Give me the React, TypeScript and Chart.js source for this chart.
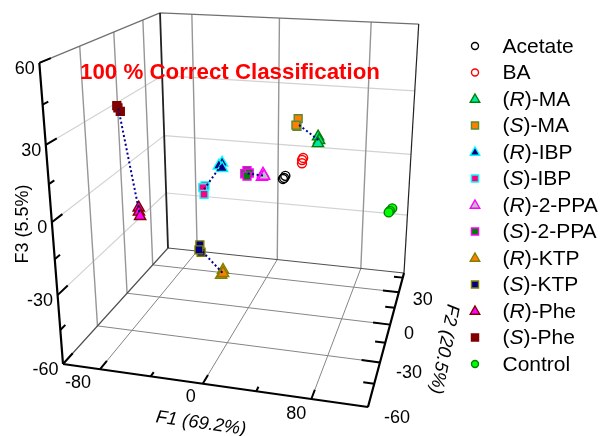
import React, { useEffect, useRef } from "react";
import { Chart, registerables } from "chart.js";
import { drawPoint } from "chart.js/helpers";

Chart.register(...registerables);

type P3 = number[];

// Replicate scores as [F1, F2, F3]
const acetate: P3[] = [[26, 10, -0.5], [25, 10, -1.5], [24, 10, -2]];
const ba: P3[] = [[36.3, 20, 4.7], [35.4, 20, 3.7], [35.4, 20, 2.2]];
const rMA: P3[] = [[54.5, 5, 19.7], [55.4, 5, 18.2], [54.5, 5, 16.8]];
const sMA: P3[] = [[31.5, 20, 22.3], [30.6, 20, 18.8], [29.7, 20, 19.3]];
const rIBP: P3[] = [[-21.7, 0, 6.7], [-24.4, 0, 5.3], [-21.7, 0, 4.3]];
const sIBP: P3[] = [[-29.7, -10, -0.3], [-31.5, -10, -1.2], [-30.6, -10, -4.1]];
const r2PPA: P3[] = [[7.1, 10, -0.4], [6.2, 10, -1.9], [8, 10, -1.4]];
const s2PPA: P3[] = [[-6.6, 10, 0.4], [-8.5, 10, -1.1], [-4.7, 10, -0.6], [-6.6, 10, -2.1]];
const rKTP: P3[] = [[-2.8, -30, -27.4], [-4.4, -30, -29.7], [-2.8, -30, -28.8]];
const sKTP: P3[] = [[-35, -10, -27.2], [-34.1, -10, -30.6], [-35.9, -10, -29.6]];
const rPhe: P3[] = [[-82.5, -15, -10.7], [-82.5, -15, -12.6], [-81.6, -15, -14.5]];
const sPhe: P3[] = [[-87, -25, 35.1], [-85.2, -25, 33.8], [-87.8, -25, 36]];
const control: P3[] = [[116.7, 0, -6.9], [115, 0, -8.1], [114.1, 0, -8.8]];

const seriesNames = ["Acetate", "BA", "(R)-MA", "(S)-MA", "(R)-IBP", "(S)-IBP", "(R)-2-PPA", "(S)-2-PPA", "(R)-KTP", "(S)-KTP", "(R)-Phe", "(S)-Phe", "Control"];
const seriesValues = [acetate, ba, rMA, sMA, rIBP, sIBP, r2PPA, s2PPA, rKTP, sKTP, rPhe, sPhe, control];
const seriesShapes = ["circle", "circle", "triangle", "rect", "triangle", "rect", "triangle", "rect", "triangle", "rect", "triangle", "rect", "circle"];
const seriesFill = ["rgba(0,0,0,0)", "rgba(0,0,0,0)", "#00e8a0", "#ff8000", "#000080", "#ff0080", "#c0c0c0", "#008000", "#ff8000", "#000080", "#ff00ff", "#800000", "#00ff00"];
const seriesStroke = ["#000000", "#ff0000", "#008000", "#5a8a30", "#00ffff", "#00ffff", "#ff00ff", "#ff00ff", "#808000", "#808000", "#800000", "#800000", "#008000"];
const linkedPairs = [[rMA, sMA], [rIBP, sIBP], [r2PPA, s2PPA], [rKTP, sKTP], [rPhe, sPhe]];

const f1Range = [-110, 120];
const f2Range = [-60, 50];
const f3Range = [-60, 60];
const f1Major = [-80, 0, 80];
const f1Minor = [-40, 40];
const f2Major = [-30, 0, 30];
const f2Minor = [-45, -15, 15, 45];
const f3Major = [-60, -30, 0, 30, 60];
const f3Minor = [-45, -15, 15, 45];

const title = "100 % Correct Classification";
const f1Title = "F1 (69.2%)";
const f2Title = "F2 (20.5%)";
const f3Title = "F3 (5.5%)";

const FONT = '"Liberation Sans", Arial, sans-serif';

// Perspective camera of the 3D box
function project(f1: number, f2: number, f3: number) {
  const a = (f1 - f1Range[0]) / (f1Range[1] - f1Range[0]);
  const b = (f2 - f2Range[0]) / (f2Range[1] - f2Range[0]);
  const c = (f3 - f3Range[0]) / (f3Range[1] - f3Range[0]);
  const w = 1 - 0.07757 * a + 0.30421 * b - 0.11 * c;
  return {
    x: (63 + 276.45 * a + 156.11 * b - 28 * c) / w,
    y: (364 + 11.43 * a - 40.56 * b - 308 * c) / w,
  };
}

const GAP = { x: NaN, y: NaN };
type Seg = [P3, P3];
const toPolyline = (segs: Seg[]) =>
  segs.flatMap(([p, q]) => [project(p[0], p[1], p[2]), project(q[0], q[1], q[2]), GAP]);

const mean = (pts: P3[]): P3 =>
  [0, 1, 2].map((i) => pts.reduce((s, p) => s + p[i], 0) / pts.length);

const lineSet = (segs: Seg[], color: string, width: number, order: number, dash: number[] = []) => ({
  type: "scatter" as const,
  data: toPolyline(segs),
  showLine: true,
  spanGaps: false,
  borderColor: color,
  backgroundColor: color,
  borderWidth: width,
  borderDash: dash,
  pointRadius: 0,
  pointHoverRadius: 0,
  order,
  clip: false as const,
});

const [x0, x1] = f1Range;
const [y0, y1] = f2Range;
const [z0, z1] = f3Range;

const wallVerticals: Seg[] = [
  ...f1Major.map((f): Seg => [[f, y1, z0], [f, y1, z1]]),
  ...f2Major.map((f): Seg => [[x0, f, z0], [x0, f, z1]]),
];
const wallHorizontals: Seg[] = [-30, 0, 30].flatMap((f): Seg[] => [
  [[x0, y0, f], [x0, y1, f]],
  [[x0, y1, f], [x1, y1, f]],
]);
const floorGrid: Seg[] = [
  ...f1Major.map((f): Seg => [[f, y0, z0], [f, y1, z0]]),
  ...f2Major.map((f): Seg => [[x0, f, z0], [x1, f, z0]]),
];
const floorBack: Seg[] = [
  [[x0, y0, z0], [x0, y1, z0]],
  [[x0, y1, z0], [x1, y1, z0]],
];
const topEdges: Seg[] = [
  [[x0, y0, z1], [x0, y1, z1]],
  [[x0, y1, z1], [x1, y1, z1]],
];
const innerVerticals: Seg[] = [[[x0, y1, z0], [x0, y1, z1]]];
const rightEdge: Seg[] = [[[x1, y1, z0], [x1, y1, z1]]];
const frontAxes: Seg[] = [
  [[x0, y0, z0], [x0, y0, z1]],
  [[x0, y0, z0], [x1, y0, z0]],
  [[x1, y0, z0], [x1, y1, z0]],
];
const ticks: Seg[] = [
  ...f1Major.map((f): Seg => [[f, y0, z0], [f, y0 + 6, z0]]),
  ...f1Minor.map((f): Seg => [[f, y0, z0], [f, y0 + 3, z0]]),
  ...f2Major.map((f): Seg => [[x1, f, z0], [x1 - 14, f, z0]]),
  ...f2Minor.map((f): Seg => [[x1, f, z0], [x1 - 8, f, z0]]),
  ...f3Major.map((f): Seg => [[x0, y0, f], [x0, y0 + 8, f]]),
  ...f3Minor.map((f): Seg => [[x0, y0, f], [x0, y0 + 4, f]]),
];
const pairLinks: Seg[] = linkedPairs.map(([p, q]): Seg => [mean(p), mean(q)]);

const f1Labels: [number, number, number][] = [[-80, -22, 13], [0, -12, 13], [80, -15, 14]];
const f2Labels: [number, number, number][] = [[30, 24, 7], [0, 19, 9], [-30, 29, 10], [-60, 29, 10]];

const pointRadius = (shape: string) => (shape === "triangle" ? 6.5 : shape === "rect" ? 5.6 : 4.5);
const legendRadius = (shape: string) => (shape === "triangle" ? 5.5 : shape === "rect" ? 5 : 3.5);

const labelsPlugin = {
  id: "boxLabels",
  afterDraw(chart: Chart) {
    const ctx = chart.ctx;
    ctx.save();
    ctx.fillStyle = "#000000";
    ctx.textBaseline = "middle";
    ctx.font = `18px ${FONT}`;

    ctx.textAlign = "right";
    f3Major.forEach((f) => {
      const p = project(x0, y0, f);
      ctx.fillText(String(f), p.x - 4.5, p.y + 5.7);
    });
    ctx.textAlign = "center";
    f1Labels.forEach(([f, dx, dy]) => {
      const p = project(f, y0, z0);
      ctx.fillText(String(f), p.x + dx, p.y + dy + 0.7);
    });
    f2Labels.forEach(([f, dx, dy]) => {
      const p = project(x1, f, z0);
      ctx.fillText(String(f), p.x + dx, p.y + dy + 0.7);
    });

    const rotated = (text: string, x: number, y: number, deg: number, font: string) => {
      ctx.save();
      ctx.translate(x, y);
      ctx.rotate((deg * Math.PI) / 180);
      ctx.font = font;
      ctx.fillText(text, 0, 0);
      ctx.restore();
    };
    rotated(f1Title, 201, 423.5, 8, `italic 18.4px ${FONT}`);
    rotated(f2Title, 444, 349, 101, `italic 18.4px ${FONT}`);
    rotated(f3Title, 23, 224, -90, `18px ${FONT}`);

    ctx.fillStyle = "#ff0000";
    ctx.textAlign = "left";
    ctx.font = `bold 22.3px ${FONT}`;
    ctx.fillText(title, 80, 73);

    // Legend
    seriesNames.forEach((name, i) => {
      const y = 46 + 26.5 * i;
      const shape = seriesShapes[i];
      ctx.fillStyle = seriesFill[i];
      ctx.strokeStyle = seriesStroke[i];
      ctx.lineWidth = 1.4;
      drawPoint(ctx, { pointStyle: shape as any, radius: legendRadius(shape), rotation: 0, borderWidth: 1.4 }, 475, y + (shape === "triangle" ? 0.5 : 0));
      ctx.fillStyle = "#000000";
      let x = 502.5;
      const m = name.match(/^\((R|S)\)(.*)$/);
      const parts: [string, boolean][] = m ? [["(", false], [m[1], true], [")" + m[2], false]] : [[name, false]];
      parts.forEach(([t, italic]) => {
        ctx.font = `${italic ? "italic " : ""}21px ${FONT}`;
        ctx.fillText(t, x, y + 0.8);
        x += ctx.measureText(t).width;
      });
    });
    ctx.restore();
  },
};

export default function App() {
  const ref = useRef<HTMLCanvasElement>(null);
  useEffect(() => {
    const markerSets = seriesNames.map((name, i) => ({
      type: "scatter" as const,
      label: name,
      data: seriesValues[i].map((p) => project(p[0], p[1], p[2])),
      pointStyle: seriesShapes[i],
      pointRadius: pointRadius(seriesShapes[i]),
      pointBackgroundColor: seriesFill[i],
      pointBorderColor: seriesStroke[i],
      pointBorderWidth: 1.4,
      showLine: false,
      order: 10 + i,
      clip: false as const,
    }));
    const chart = new Chart(ref.current as HTMLCanvasElement, {
      type: "scatter",
      data: {
        datasets: [
          lineSet(pairLinks, "#000090", 2, 1, [2, 2.5]),
          ...markerSets,
          lineSet(frontAxes, "#000000", 2.2, 30),
          lineSet(ticks, "#000000", 2, 31),
          lineSet(rightEdge, "#222222", 1.2, 32),
          lineSet(innerVerticals, "#222222", 1.8, 33),
          lineSet(topEdges, "#707070", 1.2, 34),
          lineSet(floorBack, "#505050", 1.2, 35),
          lineSet(floorGrid, "#858585", 1, 36),
          lineSet(wallVerticals, "#969696", 1.4, 37),
          lineSet(wallHorizontals, "#d2d2d2", 1.2, 38),
        ] as any,
      },
      options: {
        animation: false,
        responsive: false,
        maintainAspectRatio: false,
        layout: { padding: 0, autoPadding: false },
        events: [],
        plugins: { legend: { display: false }, tooltip: { enabled: false }, title: { display: false } },
        scales: {
          x: { type: "linear", min: 0, max: 605, display: false },
          y: { type: "linear", min: 0, max: 436, reverse: true, display: false },
        },
      },
      plugins: [labelsPlugin as any],
    });
    return () => chart.destroy();
  }, []);
  return (
    <div style={{ position: "absolute", left: 0, top: 0, width: 605, height: 436, background: "#ffffff" }}>
      <canvas ref={ref} width={605} height={436} style={{ display: "block" }} />
    </div>
  );
}
